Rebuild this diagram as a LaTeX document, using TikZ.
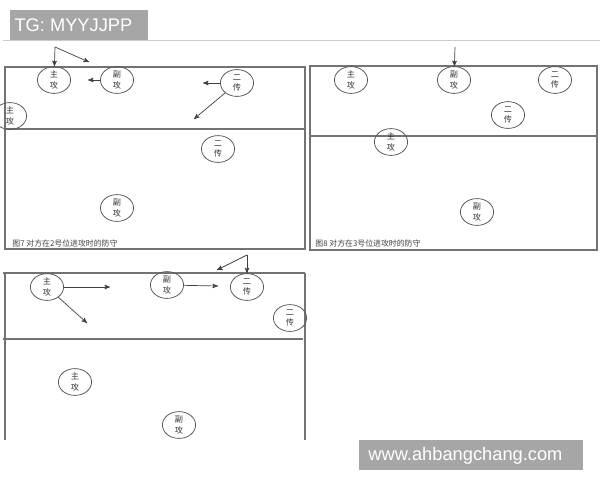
\documentclass[tikz,border=0pt]{standalone}
\usepackage{fontspec}
\newfontfamily\cjk{Noto Sans CJK SC}
\newfontfamily\wm{Liberation Sans}
\usepackage{tikz}
\usetikzlibrary{arrows,shapes,positioning,calc}
\usetikzlibrary{arrows.meta}

\begin{document}
\begin{tikzpicture}[->,>=stealth',x=0.025cm,y=-0.025cm,
semithick,font=\cjk]

\tikzstyle{player}=[ellipse, minimum width=0.83cm, minimum height=0.67cm, inner sep=0pt,
draw=black!65, line width=0.55pt, align=center, text=black!80,
font=\cjk\fontsize{5.8}{7.4}\selectfont]
\tikzstyle{court}=[-, draw=black!55, line width=0.8pt]
\tikzstyle{topline}=[-, draw=black!20, line width=0.5pt]
\tikzstyle{move}=[->, draw=black!75, line width=0.5pt]
\tikzstyle{caption}=[anchor=west, inner sep=0pt, text=black!75,
font=\cjk\fontsize{5.6}{7}\selectfont]
\tikzstyle{wmark}=[fill=black!35, text=white, inner sep=0pt, minimum height=0.75cm,
anchor=north west, font=\wm\fontsize{13}{15}\selectfont]

\useasboundingbox (0,0) rectangle (600,480);

%panel 1
\draw[topline] (3,40) -- (305,40);
\draw[court] (5,67) rectangle (305,249);
\draw[court] (5,129) -- (305,129);

\node[player] (a1) at (54,80) {主\\攻};
\node[player] (a2) at (117,80) {副\\攻};
\node[player] (a3) at (237,83) {二\\传};
\node[player] (a4) at (10,116) {主\\攻};
\node[player] (a5) at (218,149) {二\\传};
\node[player] (a6) at (117,208) {副\\攻};

\coordinate (c1) at (55,47);
\coordinate (e1) at (89,62);
\coordinate (e2) at (88,80);
\coordinate (e3) at (203,83);
\coordinate (e4) at (194,119);

\draw[move] (c1) -- (a1);
\draw[move] (c1) -- (e1);
\draw[move] (a2) -- (e2);
\draw[move] (a3) -- (e3);
\draw[move] (a3) -- (e4);

\node[caption] (t1) at (12,243) {图7 对方在2号位进攻时的防守};

%panel 2
\draw[topline] (305,40) -- (600,40);
\draw[court] (310,66) rectangle (597,250);
\draw[court] (310,136) -- (597,136);

\node[player] (b1) at (351,80) {主\\攻};
\node[player] (b2) at (454,80) {副\\攻};
\node[player] (b3) at (555,80) {二\\传};
\node[player] (b4) at (508,115) {二\\传};
\node[player] (b5) at (391,142) {主\\攻};
\node[player] (b6) at (477,212) {副\\攻};

\coordinate (c2) at (455,47);
\draw[move] (c2) -- (b2);

\node[caption] (t2) at (315,243) {图8 对方在3号位进攻时的防守};

%panel 3
\draw[court] (3,273) -- (305,273);
\draw[court] (5,273) -- (5,440);
\draw[court] (305,273) -- (305,440);
\draw[court] (3,339) -- (303,339);

\node[player] (p1) at (47,287) {主\\攻};
\node[player] (p2) at (167,285) {副\\攻};
\node[player] (p3) at (247,287) {二\\传};
\node[player] (p4) at (290,318) {二\\传};
\node[player] (p5) at (75,382) {主\\攻};
\node[player] (p6) at (179,425) {副\\攻};

\coordinate (c3) at (247,255);
\coordinate (f1) at (110,287);
\coordinate (f2) at (87,323);
\coordinate (f3) at (218,286);
\coordinate (f4) at (217,270);

\draw[move] (p1) -- (f1);
\draw[move] (p1) -- (f2);
\draw[move] (p2) -- (f3);
\draw[move] (c3) -- (p3);
\draw[move] (c3) -- (f4);

%watermarks
\node[wmark, minimum width=3.45cm] (w1) at (10,10) {\hspace*{-0.3cm}TG: MYYJJPP};
\node[wmark, minimum width=5.6cm] (w2) at (359,440) {\hspace*{-0.3cm}www.ahbangchang.com};

\end{tikzpicture}
\end{document}
